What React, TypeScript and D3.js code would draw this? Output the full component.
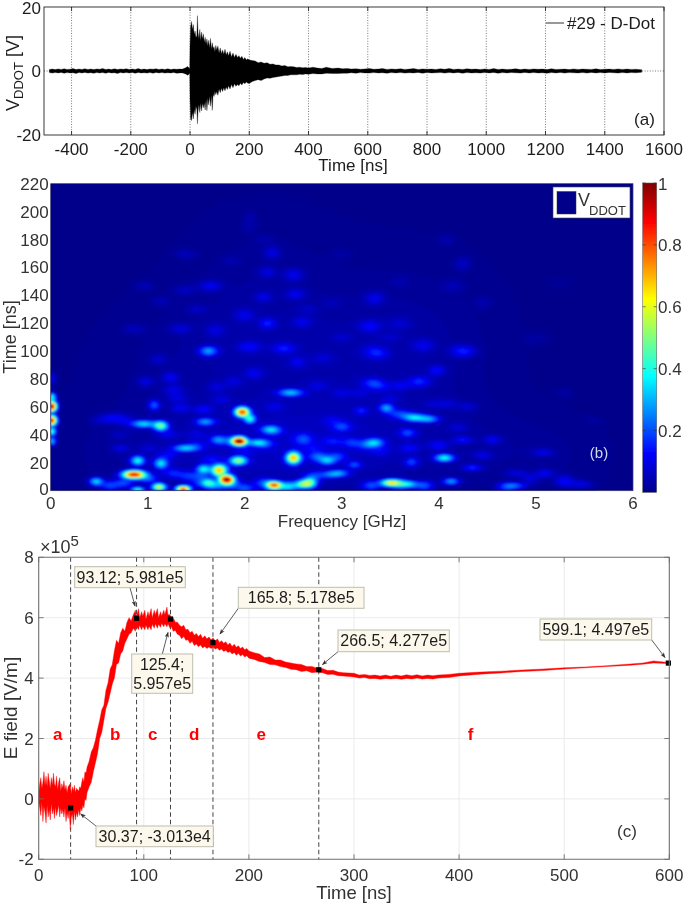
import React, { useMemo } from "react";
import * as d3 from "d3";

const W = 685, H = 904;
const FONT = "'Liberation Sans', Arial, sans-serif";

// ---------- Panel (a): D-Dot voltage envelope
const aTime = [
  -475,-465,-455,-445,-435,-425,-415,-405,-395,-385,
  -375,-365,-355,-345,-335,-325,-315,-305,-295,-285,
  -275,-265,-255,-245,-235,-225,-215,-205,-195,-185,
  -175,-165,-155,-145,-135,-125,-115,-105,-95,-85,
  -75,-65,-55,-45,-35,-25,-15,-8,-3,-1,
  0,2,5,8,11,14,17,20,23,25,
  27,30,33,36,39,42,45,48,51,54,
  57,60,63,66,69,72,75,78,81,84,
  87,90,94,98,102,106,110,114,118,122,
  126,130,135,140,145,150,155,160,165,170,
  175,180,185,190,195,200,210,220,230,240,
  250,260,270,280,290,300,310,320,330,340,
  350,360,370,380,390,400,415,430,445,460,
  480,500,515,530,545,560,575,590,605,620,
  635,650,665,680,695,710,725,740,755,770,
  785,800,815,830,845,860,875,890,905,920,
  935,950,965,980,995,1010,1025,1040,1055,1070,
  1085,1100,1115,1130,1145,1160,1175,1190,1205,1220,
  1235,1250,1265,1280,1295,1310,1325,1340,1355,1370,
  1385,1400,1415,1430,1445,1460,1475,1490,1505,1525,
];
const aUpper = [
  0.5,0.6,0.45,0.65,0.5,0.7,0.5,0.55,0.75,0.45,
  0.6,0.5,0.7,0.5,0.6,0.45,0.65,0.55,0.8,0.5,
  0.6,0.45,0.7,0.5,0.6,0.55,0.7,0.45,0.6,0.5,
  0.75,0.5,0.6,0.45,0.65,0.55,0.7,0.5,0.6,0.5,
  0.7,0.45,0.6,0.55,0.6,0.6,1.0,1.4,0.9,0.7,
  8,14,15.5,13,14.5,11.5,12.5,10.5,11,17.3,
  12,10,13,9.5,12.2,10,11.6,9,10.5,8.4,
  10,7.8,9.6,7.2,10.2,6.8,8.8,7,7.6,6,
  8,6.6,7.8,5.6,7.2,5.4,6.6,5.2,6.8,5,
  6,4.8,6.2,4.4,5.6,4.2,5.2,4.2,4.8,4,
  4.6,3.6,4.2,3.4,3.8,3.4,3.3,3.1,2.6,2.8,
  2.4,2.6,2.1,2.2,1.9,1.9,1.6,1.7,1.3,1.4,
  1.3,1.1,1.2,1,1.1,0.9,1.2,0.9,0.8,1.2,
  0.8,0.9,0.7,0.8,0.6,0.7,0.55,0.65,0.8,0.55,
  0.6,0.75,0.5,0.65,0.55,0.7,0.5,0.6,0.75,0.5,
  0.65,0.55,0.6,0.5,0.7,0.55,0.8,0.5,0.6,0.5,
  0.7,0.55,0.6,0.45,0.65,0.5,0.75,0.5,0.6,0.5,
  0.55,0.7,0.45,0.6,0.5,0.65,0.55,0.6,0.45,0.7,
  0.5,0.55,0.6,0.45,0.65,0.5,0.6,0.55,0.5,0.7,
  0.45,0.55,0.6,0.5,0.65,0.5,0.6,0.5,0.55,0.4,
];
const aLower = [
  -0.5,-0.65,-0.5,-0.6,-0.45,-0.7,-0.5,-0.6,-0.55,-0.75,
  -0.5,-0.6,-0.45,-0.65,-0.55,-0.7,-0.5,-0.6,-0.5,-0.7,
  -0.45,-0.6,-0.55,-0.75,-0.5,-0.6,-0.5,-0.65,-0.45,-0.7,
  -0.5,-0.6,-0.55,-0.65,-0.5,-0.7,-0.45,-0.6,-0.5,-0.65,
  -0.55,-0.6,-0.5,-0.7,-0.6,-0.6,-0.9,-1.3,-0.9,-0.7,
  -9,-15,-15.5,-13,-15,-12,-13.5,-11,-12,-16.5,
  -12.5,-10.5,-13,-10,-12.5,-10,-11.5,-10,-12.2,-9,
  -12.4,-8.5,-10.6,-7.8,-11,-7.6,-12.3,-7.2,-8,-6.4,
  -7.4,-6.4,-7.6,-5.6,-6.8,-5.4,-6.4,-5.2,-6.2,-5,
  -5.8,-4.6,-5.6,-4.2,-5.2,-4,-4.8,-4.2,-4.6,-3.8,
  -4.4,-3.6,-4,-3.4,-3.8,-3.9,-3.3,-3,-2.7,-3,
  -2.5,-2.2,-2.3,-2,-1.9,-1.7,-1.6,-1.4,-1.4,-1.2,
  -1.2,-1.2,-1,-1.1,-0.9,-1,-0.8,-0.9,-0.9,-0.7,
  -0.8,-0.8,-0.7,-0.7,-0.55,-0.7,-0.5,-0.6,-0.65,-0.5,
  -0.6,-0.55,-0.7,-0.5,-0.6,-0.5,-0.65,-0.55,-0.6,-0.45,
  -0.7,-0.5,-0.6,-0.55,-0.5,-0.65,-0.5,-0.6,-0.45,-0.7,
  -0.5,-0.6,-0.55,-0.65,-0.5,-0.6,-0.45,-0.7,-0.5,-0.6,
  -0.5,-0.55,-0.65,-0.45,-0.6,-0.5,-0.6,-0.55,-0.7,-0.5,
  -0.6,-0.45,-0.65,-0.5,-0.55,-0.6,-0.5,-0.65,-0.45,-0.6,
  -0.5,-0.6,-0.45,-0.55,-0.65,-0.5,-0.6,-0.5,-0.55,-0.4,
];
const aXTicks = [-400,-200,0,200,400,600,800,1000,1200,1400,1600];
const aYTicks = [20,0,-20];

// ---------- Panel (b): spectrogram features: GHz, ns, level, widths
const bFreq = [0,0,0,0,0,0,0.85,0.46,0.89,1.13,1.11,1.36,0.89,0.95,1.13,1.06,1.38,1.59,1.71,1.97,2.05,1.94,2.12,1.93,1.81,1.73,1.57,1.62,2.3,2.59,2.67,2.5,2.26,2.47,2.85,2.88,3.5,3.7,4.13,4.06,3.72,3.34,3.68,3.46,3.2,3.74,3.91,3.32,3.8,3.98,4.29,3.39,3.13,2.98,4.35,4.56,4.46,4.25,4.8,4.8,5.1,5.48,5.08,1.63,2.23,2.4,2.04,1.64,2.28,2.23,2.5,2.52,2.19,2.59,1.99,1.69,1.33,0.85,1.38,0.96,1.37,1.13,2.05,2.04,1.61,2.54,1.23,0.97,1.1,2.09,1.88,1.33,1.57,0.65,0.71,1.71,1.26,3.34,3.29,3.84,4.25,4.08,4.46,4.15,3.6,4.22,3.32,5,5.25];
const bTime = [60,50,67,42,35,80,11,6,21,19,2,0.5,0,47.5,46,61,30,49,36,56,51,35,34,21,7.5,13.6,15,5,3.5,4,5,23,43.5,70,21,11,5,4,6,23,20,34,41,59,57,52,51,77,78,86,100,98,18,12,16,36,25,36,3,12,12,4,27,100,120,102,103,147,171,157,155,141,139,121,126,115,116,116,170,147,144,136,197,190,100,92,81,78,94,84,78,59,58,53,30,74,72,138,118,104,163,180,135,147,120,100,100,109,149];
const bLevel = [1,0.92,0.42,0.45,0.32,0.12,0.92,0.34,0.38,0.34,0.6,0.85,0.42,0.34,0.46,0.2,0.3,0.26,0.14,0.82,0.38,1,0.26,0.5,0.95,0.58,0.34,0.32,0.7,0.38,0.44,0.66,0.26,0.3,0.26,0.18,0.56,0.26,0.28,0.38,0.17,0.28,0.17,0.26,0.12,0.26,0.24,0.15,0.14,0.11,0.08,0.08,0.17,0.22,0.15,0.1,0.08,0.12,0.18,0.08,0.1,0.1,0.08,0.16,0.13,0.12,0.1,0.1,0.08,0.08,0.09,0.09,0.08,0.08,0.08,0.07,0.07,0.05,0.05,0.045,0.05,0.04,0.03,0.03,0.11,0.08,0.1,0.08,0.06,0.08,0.06,0.09,0.1,0.05,0.08,0.06,0.08,0.09,0.1,0.08,0.06,0.04,0.035,0.04,0.05,0.08,0.08,0.03,0.02];
const bSpreadF = [0.035,0.035,0.03,0.03,0.03,0.03,0.08,0.05,0.05,0.05,0.05,0.05,0.05,0.09,0.05,0.04,0.09,0.07,0.05,0.05,0.04,0.05,0.07,0.06,0.05,0.05,0.05,0.05,0.05,0.05,0.05,0.05,0.07,0.09,0.06,0.07,0.07,0.06,0.06,0.07,0.05,0.07,0.06,0.05,0.05,0.07,0.07,0.08,0.08,0.06,0.08,0.07,0.05,0.07,0.07,0.06,0.07,0.07,0.08,0.08,0.07,0.08,0.08,0.07,0.06,0.08,0.08,0.08,0.06,0.06,0.07,0.07,0.06,0.07,0.07,0.07,0.08,0.08,0.08,0.07,0.08,0.07,0.05,0.05,0.06,0.06,0.06,0.06,0.06,0.06,0.06,0.07,0.07,0.1,0.06,0.06,0.07,0.07,0.08,0.08,0.06,0.06,0.06,0.08,0.08,0.08,0.08,0.1,0.1];
const bSpreadT = [2.4,2.4,2,2,2,3,1.8,1.8,2.2,2.5,1.6,1.4,1.2,1.6,2.2,2.5,1.5,1.6,1.8,2.2,2,1.9,1.4,1.9,2,2.6,2,2,1.5,1.8,2.4,2.8,1.8,1.6,1.8,1.5,1.5,1.4,1.5,1.7,2,2,2,2,1.8,1.6,1.5,2.2,2.5,2.5,2.5,2.5,1.6,1.5,1.5,2,2,1.6,1.4,1.6,2,1.8,2,2.2,2.5,2.5,2.5,2.5,3,2.5,3,2.5,2.5,2.5,3,3,2.5,2.5,2.5,2.5,2.5,2.5,3,3,2.5,2.5,2.5,2.5,2.5,2.5,2.5,2,2,2,2,2.5,2.5,3,3,3,3.5,3,3,3,3,3,3,3,3];
// thin ridges joining the spots
const ridgeFreq = [0.5,0.62,0.75,1.75,1.85,2.2,2.3,2.6,1.55,1.52,1.7,1.85,1.75,2.2,2.45,2.3,2,2.75,2.95,2.72,1,1.25,1.4,0.6,0.75,1.5,1.2,1.65,1.2,2.6,2.9,3,2.9,3.1,3.25,3.55,3.65,3.82,3.4,3.6,3,2.75,4,3.7,3.4,3.3,3.6,3.85,4.7,4.95,5.3,5.3,4.3,4.1,4.2,0.7,1,1.3,1.5,1.75,2,2.3,2.7,3,3.2,3.5,3.95,2.65,2.8,3,1.5,1.85,2.2,3.6,3,2.9,3.5,5.3,5.6];
const ridgeTime = [50,51,50,36,35,33,42,38,10,5,3,4,16,5,2.5,0.5,1,24,24,10,8,12,10,3,5,32,40,22,25,35,35,45,50,34,32,55,54,52,74,75,70,75,32,30,28,3,4,3,2,8,8,5,60,62,45,40,30,66,40,65,28,60,30,46,70,66,62,130,95,110,130,165,180,150,170,135,110,70,50];
const ridgeLevel = [0.05,0.06,0.07,0.1,0.1,0.14,0.08,0.1,0.14,0.12,0.2,0.2,0.15,0.18,0.32,0.18,0.18,0.18,0.14,0.14,0.18,0.13,0.13,0.18,0.18,0.09,0.07,0.09,0.09,0.1,0.1,0.09,0.07,0.13,0.12,0.1,0.12,0.1,0.08,0.08,0.06,0.06,0.1,0.09,0.08,0.18,0.26,0.2,0.16,0.08,0.07,0.08,0.06,0.06,0.06,0.04,0.05,0.07,0.05,0.06,0.06,0.06,0.07,0.07,0.05,0.05,0.05,0.04,0.05,0.04,0.05,0.03,0.03,0.03,0.025,0.03,0.04,0.03,0.025];
// broad glow under the spots: GHz, ns, level, widths
const hazeFreq = [1.8,3.2,2,3.5,2.2,3.8,5];
const hazeTime = [25,30,90,90,150,130,25];
const hazeLevel = [0.04,0.035,0.03,0.025,0.018,0.012,0.015];
const hazeSpreadF = [1,1,0.9,0.7,0.6,0.6,0.5];
const hazeSpreadT = [25,25,35,35,40,40,20];
const bXTicks = [0,1,2,3,4,5,6];
const bYTicks = [0,20,40,60,80,100,120,140,160,180,200,220];
const cbTicks = [1,0.8,0.6,0.4,0.2];
const jetStops = [0,0.125,0.375,0.625,0.875,1];
const jetColors = ["#00008b","#0000ff","#00ffff","#ffff00","#ff0000","#800000"];

// ---------- Panel (c): E field band
const eTime = [
  0,1,2,3,4,5,6,7,8,9,
  10,11,12,13,14,15,16,17,18,19,
  20,21,22,23,24,25,26,27,28,29,
  30,31,32,33,34,35,36,37,38,39,
  40,41,42,43,44,45,46,48,50,52,
  54,56,58,60,62,64,66,68,70,72,
  74,76,78,80,82,84,86,88,90,92,
  93,95,96,98,99,101,102,104,105,107,
  108,110,111,113,114,116,117,119,120,122,
  123,125,126,128,130,132,134,136,138,140,
  142,144,146,148,150,152,154,156,158,160,
  162,164,166,168,170,172,174,176,178,180,
  182,184,186,188,190,192,194,196,198,200,
  205,210,215,220,225,230,235,240,245,250,
  255,260,265,270,275,280,285,290,295,300,
  305,310,315,320,325,330,335,340,345,350,
  355,360,365,370,375,380,390,400,420,440,
  460,480,500,520,540,560,575,585,599,
];
const eUpper = [
  0.2,0.5,0.7,0.35,0.55,0.9,0.45,0.75,0.4,0.85,
  0.6,0.35,0.7,0.45,0.85,0.5,0.4,0.75,0.3,0.55,
  0.7,0.25,0.5,0.35,0.6,0.3,0.45,0.2,0.4,0.45,
  0.5,0.15,0.4,0.25,0.45,0.2,0.35,0.3,0.25,0.4,
  0.35,0.55,0.7,0.55,0.9,0.85,1.05,1.25,1.55,1.7,
  1.95,2.3,2.6,2.95,3.1,3.6,3.85,4.3,4.45,4.9,
  5.25,5.15,5.5,5.65,5.55,5.85,6,5.9,6.1,6.25,
  6.05,6.3,6,6.2,6.05,6.25,5.95,6.2,6.05,6.3,
  6,6.25,6.1,6.3,6,6.2,6.05,6.25,6.1,6.35,
  6.1,6.1,5.95,6,5.85,5.85,5.75,5.7,5.75,5.6,
  5.62,5.5,5.55,5.42,5.48,5.38,5.45,5.32,5.4,5.3,
  5.36,5.27,5.33,5.22,5.3,5.18,5.24,5.15,5.2,5.1,
  5.16,5.05,5.12,5.02,5.07,4.98,5.03,4.94,4.98,4.9,
  4.84,4.8,4.68,4.7,4.6,4.6,4.53,4.5,4.47,4.45,
  4.38,4.38,4.33,4.32,4.25,4.26,4.2,4.18,4.17,4.16,
  4.1,4.12,4.09,4.1,4.07,4.1,4.06,4.1,4.07,4.11,
  4.08,4.11,4.07,4.1,4.08,4.1,4.12,4.16,4.2,4.23,
  4.27,4.3,4.34,4.37,4.41,4.46,4.5,4.57,4.52,
];
const eLower = [
  -0.1,-0.3,-0.55,-0.1,-0.75,-0.25,-0.45,-0.8,-0.2,-0.6,
  -0.35,-0.7,-0.15,-0.5,-0.3,-0.65,-0.25,-0.55,-0.4,-0.2,
  -0.6,-0.3,-0.5,-0.35,-0.6,-0.3,-0.75,-0.45,-0.65,-0.4,
  -1,-0.6,-0.5,-0.85,-0.4,-0.7,-0.45,-0.6,-0.35,-0.55,
  -0.3,-0.4,-0.2,-0.3,0,-0.05,0.2,0.4,0.55,0.9,
  1.2,1.5,2,2.2,2.6,3,3.2,3.5,3.8,4,
  4.45,4.5,4.8,4.9,5.15,5.3,5.45,5.5,5.65,5.55,
  5.72,5.6,5.75,5.6,5.72,5.6,5.75,5.6,5.72,5.6,
  5.78,5.65,5.8,5.65,5.78,5.68,5.82,5.7,5.8,5.7,
  5.8,5.65,5.72,5.55,5.58,5.45,5.42,5.3,5.38,5.25,
  5.27,5.15,5.22,5.08,5.13,5.04,5.1,5,5.05,4.98,
  5.03,4.98,5.02,4.96,5,4.92,4.96,4.88,4.92,4.85,
  4.88,4.8,4.85,4.76,4.82,4.73,4.78,4.7,4.74,4.66,
  4.62,4.55,4.52,4.45,4.44,4.38,4.35,4.29,4.28,4.22,
  4.24,4.18,4.2,4.18,4.12,4.13,4.08,4.07,4.05,4.04,
  4,4.02,3.98,3.99,3.96,3.99,3.97,3.99,3.96,3.99,
  3.97,4,3.97,3.99,3.97,4,4.02,4.07,4.13,4.17,
  4.22,4.25,4.3,4.34,4.38,4.42,4.46,4.5,4.48,
];
const cXTicks = [0,100,200,300,400,500,600];
const cYTicks = [-2,0,2,4,6,8];
const markT = [30.37,93.12,125.4,165.8,266.5,599.1];
const markV = [-0.3013,5.981,5.957,5.178,4.277,4.497];
const dashT = [30.37,93.12,125.4,165.8,266.5];
const tipLines = [["30.37; -3.013e4"],["93.12; 5.981e5"],["125.4;","5.957e5"],["165.8; 5.178e5"],["266.5; 4.277e5"],["599.1; 4.497e5"]];
const regionNames = ["a","b","c","d","e","f"];
const regionT = [18,72.7,108.5,148,211.7,411];
const regionV = 2.15;

// ---------- layout
const pa = { l: 44, r: 664, t: 7, b: 135 };
const pb = { l: 50.7, r: 633, t: 183.7, b: 490.7 };
const cb = { l: 642.7, r: 656.7, t: 183, b: 492.4 };
const pc = { l: 38.7, r: 669.3, t: 557.3, b: 859.3 };
const tipBoxes = [
  [96, 826, 117.3, 20.7], [74.7, 566.7, 110.6, 21], [131.7, 654, 61, 39.3],
  [238.3, 587.3, 125.7, 21], [338, 630, 111.3, 21.7], [540, 619, 111.7, 21],
];
const tipArrows = [
  [96, 826, 80.7, 814], [130, 587.7, 135, 606], [162.3, 654, 168, 632.5],
  [238.3, 608.3, 220, 634], [338, 651.7, 322.5, 664.5], [651.7, 640, 665, 657.5],
];

const FS = 17;
const DARK = "#1c1c1c";

export default function App() {
  const ax = d3.scaleLinear().domain([-493, 1600]).range([pa.l, pa.r]);
  const ay = d3.scaleLinear().domain([-20, 20]).range([pa.b, pa.t]);
  const aArea = d3.area<number>()
    .x((_, i) => ax(aTime[i])).y0((_, i) => ay(aLower[i])).y1((_, i) => ay(aUpper[i]))(aTime);

  const bx = d3.scaleLinear().domain([0, 6]).range([pb.l, pb.r]);
  const by = d3.scaleLinear().domain([0, 220]).range([pb.b, pb.t]);
  const jet = d3.scaleLinear<string>().domain(jetStops).range(jetColors).clamp(true);
  const cy_ = d3.scaleLinear().domain([0, 1]).range([cb.b, cb.t]);

  const contours = useMemo(() => {
    const nx = 300, ny = 176;
    const field = new Float64Array(nx * ny);
    const add = (f: number, t: number, lev: number, sf: number, st: number) => {
      const cx = (f / 6) * (nx - 1), cyy = (1 - t / 220) * (ny - 1);
      const sx = (sf / 6) * (nx - 1), sy = (st / 220) * (ny - 1);
      const x0 = Math.max(0, Math.floor(cx - 4 * sx)), x1 = Math.min(nx - 1, Math.ceil(cx + 4 * sx));
      const y0 = Math.max(0, Math.floor(cyy - 4 * sy)), y1 = Math.min(ny - 1, Math.ceil(cyy + 4 * sy));
      for (let j = y0; j <= y1; j++) for (let i = x0; i <= x1; i++) {
        const dx = (i - cx) / sx, dy = (j - cyy) / sy;
        field[j * nx + i] += lev * Math.exp(-0.5 * (dx * dx + dy * dy));
      }
    };
    bFreq.forEach((f, k) => add(f, bTime[k], bLevel[k], bSpreadF[k], bSpreadT[k]));
    ridgeFreq.forEach((f, k) => add(f, ridgeTime[k], ridgeLevel[k], 0.07, 2.2));
    hazeFreq.forEach((f, k) => add(f, hazeTime[k], hazeLevel[k], hazeSpreadF[k], hazeSpreadT[k]));
    const thresholds = d3.range(0.005, 1.0, 0.01);
    const cs = d3.contours().size([nx, ny]).thresholds(thresholds)(Array.from(field) as any);
    const tx = d3.geoTransform({
      point(this: any, px: number, py: number) {
        this.stream.point(pb.l + (px / nx) * (pb.r - pb.l), pb.t + (py / ny) * (pb.b - pb.t));
      },
    });
    const gp = d3.geoPath(tx);
    return cs.filter((c) => c.coordinates.length > 0).map((c) => ({ d: gp(c as any) || "", v: c.value }));
  }, []);

  const cx = d3.scaleLinear().domain([0, 600]).range([pc.l, pc.r]);
  const cy = d3.scaleLinear().domain([-2, 8]).range([pc.b, pc.t]);
  const cArea = d3.area<number>()
    .x((_, i) => cx(eTime[i])).y0((_, i) => cy(eLower[i])).y1((_, i) => cy(eUpper[i]))(eTime);

  const GRID = "#e6e6e6", AX = "#6e6e6e", TXT = "#333";

  return (
    <svg width={W} height={H} viewBox={`0 0 ${W} ${H}`}
      style={{ position: "absolute", left: 0, top: 0, background: "#fff" }}
      fontFamily={FONT}>
      <defs>
        <filter id="soft" x="-2%" y="-2%" width="104%" height="104%">
          <feGaussianBlur stdDeviation="0.4" />
        </filter>
        <filter id="softer" x="0" y="0" width="100%" height="100%">
          <feGaussianBlur stdDeviation="0.8" />
        </filter>
        <clipPath id="heatclip"><rect x={pb.l} y={pb.t} width={pb.r - pb.l} height={pb.b - pb.t} /></clipPath>
        <linearGradient id="jetbar" x1="0" y1="1" x2="0" y2="0">
          {jetStops.map((s, i) => <stop key={i} offset={s} stopColor={jetColors[i]} />)}
        </linearGradient>
        <marker id="arr" viewBox="0 0 8 8" refX="7" refY="4" markerWidth="7" markerHeight="7" orient="auto">
          <path d="M0,1 L8,4 L0,7 L2,4 Z" fill="#333" />
        </marker>
      </defs>
      <g filter="url(#soft)">
        {/* ---------- panel a ---------- */}
        {aXTicks.map((t) => (
          <g key={t}>
            {t > -493 && t < 1600 && (
              <line x1={ax(t)} x2={ax(t)} y1={pa.t} y2={pa.b} stroke="#555" strokeWidth={0.8} strokeDasharray="1 1.6" />
            )}
            <line x1={ax(t)} x2={ax(t)} y1={pa.b} y2={pa.b - 4} stroke="#111" strokeWidth={0.8} />
            <line x1={ax(t)} x2={ax(t)} y1={pa.t} y2={pa.t + 4} stroke="#111" strokeWidth={0.8} />
            <text x={ax(t)} y={pa.b + 20} textAnchor="middle" fontSize={FS} fill={DARK}>{t}</text>
          </g>
        ))}
        <line x1={pa.l} x2={pa.r} y1={ay(0)} y2={ay(0)} stroke="#555" strokeWidth={0.8} strokeDasharray="1 1.6" />
        {aYTicks.map((v) => (
          <text key={v} x={pa.l - 3} y={ay(v) + 5.5 + (v === 20 ? 1 : 0)} textAnchor="end" fontSize={FS} fill={DARK}>{v}</text>
        ))}
        <path d={aArea || ""} fill="#000" stroke="#000" strokeWidth={0.3} />
        <rect x={pa.l} y={pa.t} width={pa.r - pa.l} height={pa.b - pa.t} fill="none" stroke="#222" strokeWidth={0.9} />
        <line x1={546} x2={564} y1={23} y2={23} stroke="#333" strokeWidth={1} />
        <text x={567} y={29} fontSize={FS} fill={DARK}>#29 - D-Dot</text>
        <text x={644.5} y={125} textAnchor="middle" fontSize={FS} fill={DARK}>(a)</text>
        <text x={353} y={171} textAnchor="middle" fontSize={FS} fill={DARK}>Time [ns]</text>
        <text transform={`translate(19,${ay(0) + 2}) rotate(-90)`} textAnchor="middle" fontSize={FS + 1} fill={DARK}>
          V<tspan fontSize={13} dy={4}>DDOT</tspan><tspan dy={-4}> [V]</tspan>
        </text>

        {/* ---------- panel b ---------- */}
        <rect x={pb.l} y={pb.t} width={pb.r - pb.l} height={pb.b - pb.t} fill={jet(0)} />
        <g clipPath="url(#heatclip)">
          <g filter="url(#softer)">
            {contours.map((c, i) => <path key={i} d={c.d} fill={jet(c.v)} fillRule="evenodd" />)}
          </g>
        </g>
        <rect x={pb.l} y={pb.t} width={pb.r - pb.l} height={pb.b - pb.t} fill="none" stroke="#3a3a6a" strokeWidth={0.7} />
        {bXTicks.map((t) => (
          <text key={t} x={bx(t)} y={pb.b + 18} textAnchor="middle" fontSize={FS} fill={TXT}>{t}</text>
        ))}
        {bYTicks.map((t) => (
          <text key={t} x={pb.l - 2} y={by(t) + 6 - (t === 0 ? 2 : 0)} textAnchor="end" fontSize={FS} fill={TXT}>{t}</text>
        ))}
        <text x={342} y={527} textAnchor="middle" fontSize={FS} fill={TXT}>Frequency [GHz]</text>
        <text transform={`translate(16,337) rotate(-90)`} textAnchor="middle" fontSize={18} fill={TXT}>Time [ns]</text>
        <text x={599} y={458} textAnchor="middle" fontSize={15} fill="#cfd8ee">(b)</text>
        <rect x={553} y={187} width={77} height={31} fill="#fff" stroke="#444" strokeWidth={0.6} />
        <rect x={557} y={191.5} width={19} height={22.5} fill={jet(0)} stroke="#333" strokeWidth={0.5} />
        <text x={578} y={206} fontSize={18} fill={TXT}>
          V<tspan fontSize={13} dy={9} dx={-1}>DDOT</tspan>
        </text>
        <rect x={cb.l} y={cb.t} width={cb.r - cb.l} height={cb.b - cb.t} fill="url(#jetbar)" stroke="#555" strokeWidth={0.5} />
        {cbTicks.map((t) => (
          <g key={t}>
            <line x1={cb.l} x2={cb.l + 3} y1={cy_(t)} y2={cy_(t)} stroke="#333" strokeWidth={0.6} />
            <line x1={cb.r - 3} x2={cb.r} y1={cy_(t)} y2={cy_(t)} stroke="#333" strokeWidth={0.6} />
            <text x={658} y={cy_(t) + 6 + (t === 1 ? 1 : 0)} fontSize={FS} fill={TXT}>{t}</text>
          </g>
        ))}

        {/* ---------- panel c ---------- */}
        {cXTicks.slice(1, -1).map((t) => (
          <line key={t} x1={cx(t)} x2={cx(t)} y1={pc.t} y2={pc.b} stroke={GRID} strokeWidth={0.8} />
        ))}
        {cYTicks.slice(1, -1).map((v) => (
          <line key={v} x1={pc.l} x2={pc.r} y1={cy(v)} y2={cy(v)} stroke={GRID} strokeWidth={0.8} />
        ))}
        {dashT.map((t) => (
          <line key={t} x1={cx(t)} x2={cx(t)} y1={pc.t} y2={pc.b} stroke="#444" strokeWidth={1} strokeDasharray="4.5 3" />
        ))}
        <path d={cArea || ""} fill="#ff0000" stroke="#ff0000" strokeWidth={0.4} />
        {markT.map((t, i) => (
          <rect key={t} x={cx(t) - 2.6} y={cy(markV[i]) - 2.6} width={5.2} height={5.2} fill="#000" />
        ))}
        <path d={`M${pc.l},${pc.t}H${pc.r}V${pc.b}H${pc.l}Z`} fill="none" stroke={AX} strokeWidth={1.1} />
        {cXTicks.map((t) => (
          <g key={t}>
            <line x1={cx(t)} x2={cx(t)} y1={pc.b} y2={pc.b - 5} stroke={AX} strokeWidth={0.9} />
            <line x1={cx(t)} x2={cx(t)} y1={pc.t} y2={pc.t + 5} stroke={AX} strokeWidth={0.9} />
            <text x={cx(t)} y={pc.b + 21.5} textAnchor="middle" fontSize={FS} fill={TXT}>{t}</text>
          </g>
        ))}
        {cYTicks.map((v) => (
          <g key={v}>
            <line x1={pc.l} x2={pc.l + 5} y1={cy(v)} y2={cy(v)} stroke={AX} strokeWidth={0.9} />
            <line x1={pc.r} x2={pc.r - 5} y1={cy(v)} y2={cy(v)} stroke={AX} strokeWidth={0.9} />
            <text x={pc.l - 5} y={cy(v) + 6} textAnchor="end" fontSize={FS} fill={TXT}>{v}</text>
          </g>
        ))}
        <text x={40} y={553} fontSize={18} fill={TXT}>×10<tspan fontSize={15} dy={-7}>5</tspan></text>
        <text x={354} y={899} textAnchor="middle" fontSize={18.5} fill={TXT}>Time [ns]</text>
        <text transform={`translate(17,708) rotate(-90)`} textAnchor="middle" fontSize={19} fill={TXT}>E field [V/m]</text>
        <text x={627} y={837} textAnchor="middle" fontSize={17} fill={TXT}>(c)</text>
        {regionNames.map((n, i) => (
          <text key={n} x={cx(regionT[i])} y={cy(regionV) + 6} textAnchor="middle" fontSize={17} fontWeight="bold" fill="#ff0000">{n}</text>
        ))}
        {tipArrows.map((a, i) => (
          <line key={i} x1={a[0]} y1={a[1]} x2={a[2]} y2={a[3]} stroke="#333" strokeWidth={0.8} markerEnd="url(#arr)" />
        ))}
        {tipBoxes.map((b, i) => (
          <g key={i}>
            <rect x={b[0]} y={b[1]} width={b[2]} height={b[3]} fill="#fdf8ec" stroke="#bdbdb0" strokeWidth={1} />
            {tipLines[i].map((l, j) => (
              <text key={j} x={b[0] + b[2] / 2} y={b[1] + 16 + j * 19} textAnchor="middle" fontSize={16} fill={DARK}>{l}</text>
            ))}
          </g>
        ))}
      </g>
    </svg>
  );
}
